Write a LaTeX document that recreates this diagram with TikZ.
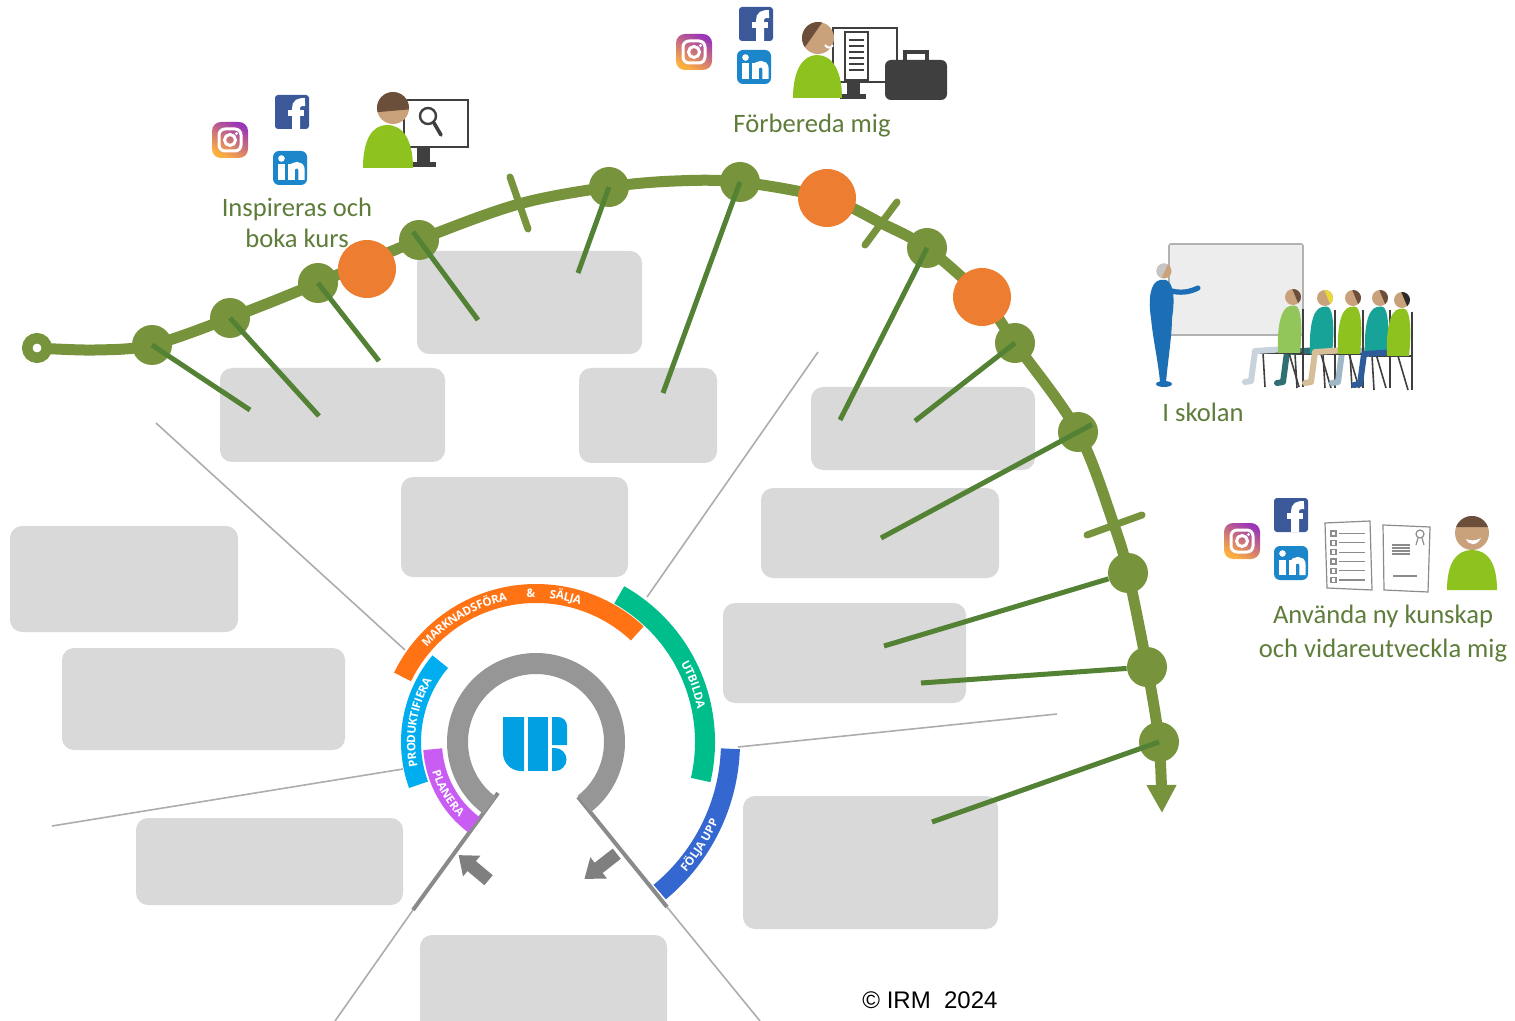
\documentclass[tikz,border=0pt]{standalone}
\usepackage{fontspec}
\usetikzlibrary{arrows.meta}

\newfontfamily\labelfont{Carlito}
\newfontfamily\arcfont{Open Sans}
\newfontfamily\notefont{Liberation Sans}

\definecolor{journeygreen}{HTML}{77933C}
\definecolor{leadergreen}{HTML}{548235}
\definecolor{eventorange}{HTML}{ED7D31}
\definecolor{panelgrey}{HTML}{D9D9D9}
\definecolor{spokegrey}{HTML}{ADADAD}
\definecolor{cutgrey}{HTML}{8A8A8A}
\definecolor{ringgrey}{HTML}{969696}
\definecolor{arrowgrey}{HTML}{7F7F7F}
\definecolor{salesorange}{HTML}{FF7314}
\definecolor{teachgreen}{HTML}{00BE8C}
\definecolor{followblue}{HTML}{3467CF}
\definecolor{prodcyan}{HTML}{00AEEF}
\definecolor{planpurple}{HTML}{C95CF2}
\definecolor{logoblue}{HTML}{00A0E3}
\definecolor{labelgreen}{HTML}{5E7D3A}
\definecolor{fbblue}{HTML}{3B5998}
\definecolor{liblue}{HTML}{1B86C9}
\definecolor{igyellow}{HTML}{FDB03E}
\definecolor{igpink}{HTML}{E8305E}
\definecolor{igpurple}{HTML}{9B36B7}
\definecolor{skin}{HTML}{C9A27C}
\definecolor{hair}{HTML}{6B4F3A}
\definecolor{shirt}{HTML}{8DC21F}
\definecolor{device}{HTML}{3F3F3F}
\definecolor{papergrey}{HTML}{8C8C8C}
\definecolor{board}{HTML}{EDEDED}
\definecolor{teacher}{HTML}{1C6EB5}
\definecolor{lightshirt}{HTML}{92C55A}
\definecolor{tealshirt}{HTML}{17A398}
\definecolor{palejeans}{HTML}{C9D3DC}
\definecolor{darkteal}{HTML}{2F6F73}
\definecolor{khaki}{HTML}{D6BE98}
\definecolor{greyjeans}{HTML}{9FB8C8}
\definecolor{bluejeans}{HTML}{2E5C9A}
\definecolor{blonde}{HTML}{E8D83A}
\definecolor{blackhair}{HTML}{2B2B2B}

% letters set one by one round the hub:
% name, radius, start angle, degrees per em, letter turn, letter/width list
\newcommand\bandword[6]{%
  \foreach \glyph/\gw [count=\k, remember=\wsum as \wprev (initially 0)] in {#6} {
    \pgfmathsetmacro\wsum{\wprev+\gw}
    \pgfmathsetmacro\gang{#3+(\wprev+\gw/2)*(#4)}
    \node[arcchar, rotate={\gang+(#5)}] (#1\k) at (\gang:#2) {\glyph};
  }%
}

\begin{document}
\begin{tikzpicture}[
    x=0.5pt, y=0.5pt,
    panel/.style={fill=panelgrey, rounded corners=6pt},
    spoke/.style={draw=spokegrey, line width=0.8pt},
    cutline/.style={draw=cutgrey, line width=2pt},
    waypoint/.style={circle, fill=journeygreen, minimum size=20pt, inner sep=0pt},
    event/.style={circle, fill=eventorange, minimum size=29pt, inner sep=0pt},
    journey/.style={draw=journeygreen, line width=5.5pt},
    notch/.style={draw=journeygreen, line width=3.5pt, line cap=round},
    leader/.style={draw=leadergreen, line width=2.5pt},
    stage/.style={font=\labelfont\fontsize{13.3}{16}\selectfont, text=labelgreen, inner sep=0pt, anchor=base},
    credit/.style={font=\notefont\fontsize{12}{14}\selectfont, inner sep=0pt, anchor=base},
    arcchar/.style={font=\arcfont\bfseries\fontsize{5.8}{7}\selectfont, text=white, inner sep=0pt,
        text height=4.2pt, text depth=0pt, anchor=center},
    screen/.style={draw=device, fill=white, line width=1.2pt},
    sheet/.style={draw=papergrey, fill=white, line width=0.6pt},
    chairline/.style={draw=device, line width=0.8pt},
    pics/insta/.style={code={
        \shade[rounded corners=4.5pt, left color=igyellow, middle color=igpink, right color=igpurple, shading angle=150] (-18,-18) rectangle (18,18);
        \draw[white, line width=1.5pt, rounded corners=3pt] (-11,-11) rectangle (11,11);
        \draw[white, line width=1.5pt] (0,0) circle (5.5);
        \fill[white] (6.5,6.5) circle (1.7);
      }},
    pics/fbook/.style={code={
        \fill[fbblue, rounded corners=1.5pt] (-17,-17) rectangle (17,17);
        \draw[white, line width=4pt] (4,-17) -- (4,3) .. controls (4,9) and (7,10) .. (13,10);
        \draw[white, line width=3pt] (-4,-1) -- (12,-1);
      }},
    pics/linked/.style={code={
        \fill[liblue, rounded corners=3pt] (-17,-17) rectangle (17,17);
        \fill[white] (-8.5,9.5) circle (3.3);
        \draw[white, line width=3.2pt] (-8.5,-12) -- (-8.5,3.5);
        \draw[white, line width=3.2pt] (1.5,-12) -- (1.5,3.5);
        \draw[white, line width=3.2pt] (1.5,-1) .. controls (2.5,3.5) and (11.5,5) .. (11.5,-2) -- (11.5,-12);
      }},
    pics/student/.style n args={3}{code={
        \draw[chairline] (10,-12) -- (10,-90);
        \draw[chairline] (-33,-56) -- (10,-56);
        \draw[chairline] (-30,-56) -- (-28,-90);
        \draw[chairline] (-4,-56) -- (6,-90);
        \draw[#2, line width=3pt, line cap=round, line join=round] (-6,-52) -- (-38,-54) -- (-42,-84) -- (-48,-85);
        \fill[#1] (-3,-9) .. controls (-13,-11) and (-16,-32) .. (-15,-56) -- (7,-56) .. controls (9,-38) and (9,-18) .. (5,-11) .. controls (3,-8) and (0,-8) .. cycle;
        \fill[skin] (0,0) circle (8);
        \fill[#3] (0,0) ++(95:8) arc[start angle=95, end angle=-50, radius=8] -- cycle;
      }}
  ]

  % page
  \fill[white] (0,0) rectangle (1515,-1021);
  \useasboundingbox (0,0) rectangle (1515,-1021);

  % spokes from the hub
  \draw[spoke] (156,-423) -- (405,-650);
  \draw[spoke] (52,-826) -- (403,-769);
  \draw[spoke] (818,-352) -- (647,-597);
  \draw[spoke] (1057,-714) -- (738,-747);
  \draw[spoke] (413,-910) -- (335,-1021);
  \draw[spoke] (667,-907) -- (760,-1021);
  \draw[cutline] (498,-793) -- (413,-910);
  \draw[cutline] (578,-797) -- (667,-907);

  % empty text panels
  \foreach \xa/\ya/\xb/\yb in {220/368/445/462, 417/251/642/354, 579/368/717/463,
      401/477/628/577, 811/387/1035/470, 761/488/999/578, 10/526/238/632,
      62/648/345/750, 723/603/966/703, 136/818/403/905, 743/796/998/929, 420/935/667/1040}
    \fill[panel] (\xa,-\ya) rectangle (\xb,-\yb);

  % hub: ring, logo and process arcs
  \begin{scope}[shift={(536,-742)}]
    \draw[ringgrey, line width=10.5pt] (-52:78.5) arc[start angle=-52, end angle=234, radius=78.5];
    \fill[logoblue] (-12,25) -- (-33,25) -- (-33,-11) arc[start angle=180, end angle=270, radius=18] -- (-12,-29) -- cycle;
    \fill[logoblue] (-8,25) rectangle (12,-29);
    \fill[logoblue] (16,25) -- (22,25) arc[start angle=90, end angle=0, radius=9] -- (31,-3) -- (16,-3) -- cycle;
    \fill[logoblue] (16,-6) -- (19,-6) arc[start angle=90, end angle=-90, radius=11.5] -- (16,-29) -- cycle;

    \draw[salesorange, line width=9.5pt] (154:148.5) arc[start angle=154, end angle=47, radius=148.5];
    \draw[teachgreen, line width=10pt] (60.5:169) arc[start angle=60.5, end angle=-13, radius=169];
    \draw[followblue, line width=9.5pt] (-2:194.5) arc[start angle=-2, end angle=-50.5, radius=194.5];
    \draw[prodcyan, line width=10pt] (140:125) arc[start angle=140, end angle=200, radius=125];
    \draw[planpurple, line width=9.5pt] (184:103.5) arc[start angle=184, end angle=233, radius=103.5];

    % captions on the arcs
    \bandword{mk}{148.5}{139}{-4.5}{-90}{M/.93,A/.67,R/.66,K/.65,N/.78,A/.67,D/.73,S/.57,F/.55,Ö/.79,R/.66,A/.67}
    \node[arcchar, rotate=2] (amp) at (92:148.5) {\&};
    \bandword{sa}{148.5}{84.7}{-4.5}{-90}{S/.57,Ä/.67,L/.55,J/.30,A/.67}
    \bandword{ut}{169}{28.5}{-3.93}{-90}{U/.75,T/.58,B/.68,I/.33,L/.55,D/.73,A/.67}
    \bandword{fo}{194.5}{-41}{3.42}{90}{F/.55,Ö/.79,L/.55,J/.30,A/.67}
    \bandword{up}{194.5}{-30.3}{3.42}{90}{U/.75,P/.64,P/.64}
    \bandword{pr}{125}{191.5}{-5.32}{-90}{P/.64,R/.66,O/.79,D/.73,U/.75,K/.65,T/.58,I/.33,F/.55,I/.33,E/.56,R/.66,A/.67}
    \bandword{pl}{103.5}{195.5}{6.42}{90}{P/.64,L/.55,A/.67,N/.78,E/.56,R/.66,A/.67}
  \end{scope}

  % turning arrows below the hub
  \fill[arrowgrey, shift={(474,-868)}, rotate=140] (-19,-6.5) -- (3,-6.5) -- (3,-13.5) -- (20,0) -- (3,13.5) -- (3,6.5) -- (-19,6.5) -- cycle;
  \fill[arrowgrey, shift={(601,-866)}, rotate=218] (-20,-6.5) -- (3,-6.5) -- (3,-13.5) -- (21,0) -- (3,13.5) -- (3,6.5) -- (-20,6.5) -- cycle;

  % journey line with its waypoints
  \coordinate (start) at (37,-348);
  \coordinate (bend) at (95,-350);
  \coordinate (crest) at (675,-181);
  \coordinate (finish) at (1162,-813);
  \coordinate (o1) at (367,-269);
  \coordinate (o2) at (827,-198);
  \coordinate (o3) at (982,-297);
  \coordinate (t1) at (519,-204);
  \coordinate (t2) at (881,-223);
  \coordinate (t3) at (1114,-525);

  \node[waypoint] (n1) at (152,-345) {};
  \node[waypoint] (n2) at (230,-318) {};
  \node[waypoint] (n3) at (318,-283) {};
  \node[waypoint] (n4) at (419,-240) {};
  \node[waypoint] (n5) at (609,-187) {};
  \node[waypoint] (n6) at (740,-182) {};
  \node[waypoint] (n7) at (927,-248) {};
  \node[waypoint] (n8) at (1015,-343) {};
  \node[waypoint] (n9) at (1078,-432) {};
  \node[waypoint] (n10) at (1128,-573) {};
  \node[waypoint] (n11) at (1147,-667) {};
  \node[waypoint] (n12) at (1159,-742) {};

  \draw[journey, -{Triangle[length=14pt, width=14pt]}] plot[smooth, tension=0.55] coordinates {
      (start) (bend) (n1.center) (n2.center) (n3.center) (n4.center) (t1) (n5.center) (crest)
      (n6.center) (o2) (t2) (n7.center) (o3) (n8.center) (n9.center) (t3)
      (n10.center) (n11.center) (n12.center) (finish)};

  \node[circle, draw=journeygreen, line width=5.25pt, fill=white, minimum size=9.75pt, inner sep=0pt] (origin) at (start) {};

  % cross marks on the line
  \draw[notch] (510,-177) -- (528,-229);
  \draw[notch] (865,-245) -- (897,-202);
  \draw[notch] (1087,-535) -- (1142,-515);

  % orange events
  \node[event] (e1) at (o1) {};
  \node[event] (e2) at (o2) {};
  \node[event] (e3) at (o3) {};

  % leaders from waypoints into the panels
  \foreach \n/\x/\y in {1/250/410, 2/319/416, 3/379/361, 5/578/273, 6/663/393,
      7/840/420, 8/915/421, 12/932/822} {
    \coordinate (l\n) at (\x,-\y);
    \draw[leader] (n\n.center) -- (l\n);
  }
  \coordinate (l4) at (478,-320);
  \draw[leader, shorten <=-5pt] (n4.center) -- (l4);
  \coordinate (l9) at (881,-538);
  \draw[leader, shorten <=-8pt] (n9.center) -- (l9);
  \coordinate (l10) at (884,-646);
  \draw[leader] (n10) -- (l10);
  \coordinate (l11) at (921,-683);
  \draw[leader] (n11) -- (l11);

  % social icons
  \pic at (230,-140) {insta};
  \pic at (292,-112) {fbook};
  \pic at (290,-168) {linked};
  \pic at (694,-52) {insta};
  \pic at (756,-24) {fbook};
  \pic at (754,-67) {linked};
  \pic at (1242,-541) {insta};
  \pic at (1291,-515) {fbook};
  \pic at (1291,-563) {linked};

  % searching at the screen
  \draw[screen] (404,-100) rectangle (468,-147);
  \draw[device, line width=1.2pt] (428,-116) circle (8);
  \draw[device, line width=1.8pt, line cap=round] (434,-123) -- (441,-135);
  \fill[device] (417,-147) rectangle (430,-163);
  \fill[device] (412,-162) rectangle (436,-167);
  \fill[shirt] (363,-168) .. controls (363,-140) and (372,-125) .. (387,-125) .. controls (403,-125) and (413,-140) .. (413,-168) -- cycle;
  \fill[skin] (393,-108) circle (16);
  \fill[hair] (393,-108) ++(195:16) arc[start angle=195, end angle=-5, radius=16] -- cycle;

  % preparing with document and briefcase
  \draw[screen] (833,-28) rectangle (897,-82);
  \draw[device, fill=white, line width=1pt] (845,-32) rectangle (868,-80);
  \foreach \y in {-40,-46,-52,-58,-64,-70}
    \draw[device, line width=0.9pt] (849,\y) -- (864,\y);
  \fill[device] (847,-82) rectangle (860,-95);
  \fill[device] (840,-94) rectangle (866,-99);
  \draw[device, line width=1.6pt] (905,-62) -- (905,-52) -- (927,-52) -- (927,-62);
  \fill[device, rounded corners=3pt] (885,-60) rectangle (947,-100);
  \fill[shirt] (793,-98) .. controls (793,-70) and (803,-55) .. (817,-55) .. controls (832,-55) and (842,-70) .. (842,-98) -- cycle;
  \fill[skin] (818,-38) circle (16);
  \fill[hair] (818,-38) ++(75:16) arc[start angle=75, end angle=215, radius=16] -- cycle;
  \draw[white, line width=1pt] (825,-45) .. controls (828,-49) and (831,-48) .. (833,-45);

  % classroom
  \draw[draw=gray!60, line width=0.8pt, fill=board, rounded corners=1pt] (1169,-244) rectangle (1303,-335);
  \fill[teacher] (1160,-280) .. controls (1150,-282) and (1148,-300) .. (1151,-318) .. controls (1153,-340) and (1158,-360) .. (1160,-382) -- (1166,-382) .. controls (1168,-360) and (1172,-335) .. (1172,-318) .. controls (1175,-300) and (1174,-283) .. (1166,-280) -- cycle;
  \fill[teacher] (1164,-384) ellipse (8 and 3);
  \draw[teacher, line width=2.6pt, line cap=round] (1168,-290) .. controls (1180,-294) and (1190,-292) .. (1198,-288);
  \fill[skin] (1164,-271) circle (7.5);
  \fill[gray!45] (1164,-271) ++(60:7.5) arc[start angle=60, end angle=250, radius=7.5] -- cycle;
  \pic at (1325,-298) {student={tealshirt}{darkteal}{blonde}};
  \pic at (1380,-298) {student={tealshirt}{greyjeans}{hair}};
  \pic at (1293,-297) {student={lightshirt}{palejeans}{hair}};
  \pic at (1353,-298) {student={shirt}{khaki}{hair}};
  \pic at (1402,-300) {student={shirt}{bluejeans}{blackhair}};

  % checklist, certificate and a happy learner
  \draw[sheet] (1325,-523) -- (1370,-521) -- (1372,-590) -- (1327,-588) -- cycle;
  \foreach \i in {0,...,5} {
    \draw[sheet] (1331,-531-9.3*\i) rectangle (1336,-536-9.3*\i);
    \draw[papergrey, line width=0.6pt] (1339,-533.5-9.3*\i) -- (1365,-533.5-9.3*\i);
  }
  \draw[sheet] (1383,-525) -- (1430,-527) -- (1428,-592) -- (1384,-590) -- cycle;
  \draw[papergrey, line width=0.6pt] (1420,-534) circle (4);
  \draw[papergrey, line width=0.6pt] (1418,-538) -- (1416,-545) (1422,-538) -- (1424,-545);
  \foreach \y in {-545,-548,-551,-554}
    \draw[papergrey, line width=0.6pt] (1392,\y) -- (1410,\y);
  \draw[papergrey, line width=0.6pt] (1393,-576) -- (1417,-576);
  \fill[shirt] (1447,-590) .. controls (1447,-562) and (1457,-550) .. (1472,-550) .. controls (1487,-550) and (1497,-562) .. (1497,-590) -- cycle;
  \fill[skin] (1472,-533) circle (17);
  \fill[hair] (1472,-533) ++(160:17) arc[start angle=160, end angle=20, radius=17] -- cycle;
  \fill[white] (1466,-539) .. controls (1469,-546) and (1477,-546) .. (1481,-538) .. controls (1476,-541) and (1470,-541) .. cycle;

  % stage captions
  \node[stage] (inspire1) at (297,-217) {Inspireras och};
  \node[stage] (inspire2) at (297,-248) {boka kurs};
  \node[stage] (prepare) at (812,-133) {Förbereda mig};
  \node[stage] (school) at (1203,-422) {I skolan};
  \node[stage] (apply1) at (1383,-623) {Använda ny kunskap};
  \node[stage] (apply2) at (1383,-657) {och vidareutveckla mig};
  \node[credit] (copy) at (930,-1008) {© IRM~~2024};

\end{tikzpicture}
\end{document}
